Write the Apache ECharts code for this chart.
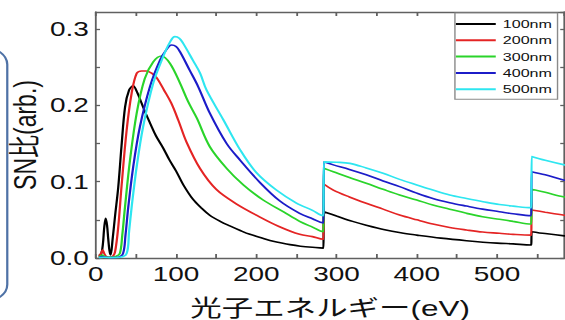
<!DOCTYPE html>
<html>
<head>
<meta charset="utf-8">
<script src="https://cdn.jsdelivr.net/npm/echarts@6/dist/echarts.min.js"></script>
<style>
html,body{margin:0;padding:0;background:#fff;overflow:hidden;width:565px;height:320px;}
#c{width:404px;height:320px;transform:scaleX(1.3985);transform-origin:0 0;}
</style>
</head>
<body>
<div id="c"></div>
<script>
// ---- data (photon energy in eV, SN ratio in arb.) ----
const legendNames = ['100nm', '200nm', '300nm', '400nm', '500nm'];
const xTicks = [0, 100, 200, 300, 400, 500];
const yTicks = [0.0, 0.1, 0.2, 0.3];

const eV100 = [4, 7, 9, 10.5, 12.3, 14, 15.5, 17, 18.5, 21, 24, 28, 32, 36.5, 41.5, 46.5, 52, 57, 62, 67.5, 75, 84, 92, 100, 109, 121, 131, 142, 155, 167, 180, 192, 205, 217, 230, 242, 255, 270, 283.8, 283.9, 284, 284.1, 300, 320, 337, 360, 380, 400, 430, 462, 500, 520, 542.8, 542.9, 543, 543.1, 560, 584, 600];
const sn100 = [0.003, 0.006, 0.02, 0.04, 0.052, 0.043, 0.025, 0.01, 0.004, 0.025, 0.055, 0.093, 0.146, 0.198, 0.22, 0.2255, 0.216, 0.203, 0.19, 0.177, 0.16, 0.144, 0.128, 0.114, 0.096, 0.077, 0.066, 0.056, 0.048, 0.042, 0.036, 0.031, 0.027, 0.023, 0.02, 0.0175, 0.0155, 0.014, 0.013, 0.013, 0.0607, 0.0607, 0.055, 0.048, 0.043, 0.037, 0.033, 0.030, 0.026, 0.0227, 0.0195, 0.0185, 0.017, 0.017, 0.0345, 0.0345, 0.032, 0.029, 0.0275];

const eV200 = [4, 6.5, 8.6, 10.5, 13, 17, 21, 24, 28, 32, 38.5, 44.7, 51, 57, 63, 70, 76, 85, 94, 103, 113, 130, 150, 175, 204, 229, 254, 270, 283.8, 283.9, 284, 284.1, 296, 316, 337, 358, 378.6, 400, 420, 441, 462, 482, 503, 520, 542.8, 542.9, 543, 543.1, 560, 584, 600];
const sn200 = [0.002, 0.006, 0.0105, 0.006, 0.002, 0.001, 0.002, 0.008, 0.041, 0.093, 0.168, 0.216, 0.242, 0.245, 0.245, 0.242, 0.236, 0.22, 0.203, 0.18, 0.152, 0.117, 0.09, 0.071, 0.054, 0.041, 0.031, 0.028, 0.0245, 0.0245, 0.097, 0.097, 0.089, 0.080, 0.0717, 0.064, 0.0563, 0.050, 0.0445, 0.040, 0.0367, 0.034, 0.0324, 0.031, 0.030, 0.030, 0.063, 0.063, 0.060, 0.056, 0.054];

const eV300 = [4, 8, 11, 15, 20, 25, 30, 33, 36.4, 42.6, 51, 61, 71.6, 82, 92.4, 105, 115, 126, 142, 163, 184, 208.5, 233.5, 254, 270, 283.8, 283.9, 284, 284.1, 296, 316, 337, 358, 378.6, 400, 420, 441, 462, 482, 503, 520, 542.8, 542.9, 543, 543.1, 560, 584, 600];
const sn300 = [0.001, 0.004, 0.002, 0.001, 0.001, 0.002, 0.006, 0.03, 0.067, 0.128, 0.19, 0.235, 0.257, 0.2647, 0.255, 0.229, 0.205, 0.183, 0.146, 0.1175, 0.0957, 0.076, 0.0607, 0.048, 0.0405, 0.0345, 0.0345, 0.1175, 0.1175, 0.113, 0.1055, 0.098, 0.090, 0.0825, 0.076, 0.0695, 0.064, 0.0585, 0.054, 0.0507, 0.048, 0.0445, 0.0445, 0.090, 0.090, 0.086, 0.080, 0.078];

const eV400 = [4, 8, 12, 20, 28, 34, 37, 40.5, 46.7, 55, 67.5, 80, 88, 94.5, 100, 105, 117, 127.6, 142, 163, 180, 204.5, 229, 254, 270, 283.8, 283.9, 284, 284.1, 296, 316, 337, 358, 378.6, 400, 420, 441, 462, 482, 503, 520, 542.8, 542.9, 543, 543.1, 560, 584, 600];
const sn400 = [0.0005, 0.002, 0.001, 0.0005, 0.001, 0.006, 0.03, 0.067, 0.12, 0.172, 0.2245, 0.259, 0.273, 0.279, 0.277, 0.270, 0.246, 0.2245, 0.19, 0.150, 0.128, 0.099, 0.075, 0.0585, 0.0515, 0.046, 0.046, 0.126, 0.126, 0.122, 0.116, 0.109, 0.101, 0.0935, 0.085, 0.078, 0.0725, 0.068, 0.064, 0.0607, 0.058, 0.0555, 0.0555, 0.113, 0.113, 0.109, 0.102, 0.099];

const eV500 = [4, 10, 20, 30, 38.5, 41.5, 44.7, 51, 59, 71.6, 84, 92, 98.6, 104, 109, 121, 130, 138, 159, 180, 200, 225, 250, 270, 283.8, 283.9, 284, 284.1, 300, 316.6, 337, 358, 378.6, 400, 420, 441, 462, 482.6, 503, 520, 542.8, 542.9, 543, 543.1, 560, 584, 600];
const sn500 = [0.0005, 0.001, 0.0005, 0.001, 0.006, 0.035, 0.067, 0.12, 0.172, 0.229, 0.264, 0.282, 0.290, 0.288, 0.281, 0.259, 0.242, 0.22, 0.181, 0.1415, 0.112, 0.089, 0.072, 0.0625, 0.0555, 0.0555, 0.126, 0.126, 0.1255, 0.124, 0.118, 0.111, 0.103, 0.0957, 0.089, 0.0825, 0.078, 0.0738, 0.070, 0.068, 0.066, 0.066, 0.133, 0.133, 0.128, 0.122, 0.119];

const seriesColors = ['#000000', '#e42424', '#2ad42a', '#1c1cc8', '#2ee6f0'];
const xData = [eV100, eV200, eV300, eV400, eV500];
const yData = [sn100, sn200, sn300, sn400, sn500];

// ---- chart ----
const FONT = "'Liberation Sans', Arial, 'Noto Sans CJK JP', sans-serif";
const chart = echarts.init(document.getElementById('c'), null, { renderer: 'svg' });

const axisLineStyle = { color: '#606060', width: 1.3 };
const xFmt = v => (xTicks.indexOf(Math.round(v)) >= 0 && Math.abs(v - Math.round(v)) < 1e-6) ? String(Math.round(v)) : '';
const yFmt = v => {
  for (const t of yTicks) if (Math.abs(v - t) < 1e-6) return t.toFixed(1);
  return '';
};

const series = legendNames.map((name, i) => ({
  name: name,
  type: 'line',
  xAxisIndex: 0,
  yAxisIndex: 0,
  data: xData[i].map((x, k) => [x, yData[i][k]]),
  showSymbol: false,
  symbol: 'none',
  smooth: 0.35,
  lineStyle: { color: seriesColors[i], width: 1.6 },
  itemStyle: { color: seriesColors[i] },
  clip: true,
  z: 2 + i
}));

chart.setOption({
  animation: false,
  backgroundColor: '#ffffff',
  textStyle: { fontFamily: FONT },
  grid: { left: 68.5, right: 0.4, top: 12, bottom: 62, containLabel: false, outerBoundsMode: 'none' },
  legend: {
    data: legendNames,
    orient: 'vertical',
    left: 325.3,
    top: 13,
    padding: [5, 4, 4, 0.7],
    itemGap: 4.3,
    itemWidth: 28.5,
    itemHeight: 2,
    icon: 'rect',
    borderColor: '#8a8a8a',
    borderWidth: 1,
    backgroundColor: '#ffffff',
    textStyle: { fontFamily: FONT, fontSize: 11.5, color: '#111', lineHeight: 12, padding: [0, 0, 0, 0] },
    itemStyle: { borderWidth: 0 }
  },
  xAxis: [{
    type: 'value',
    min: 0, max: 584, interval: 50,
    position: 'bottom',
    name: '光子エネルギー(eV)',
    nameLocation: 'middle',
    nameGap: 39,
    nameMoveOverlap: false,
    nameTextStyle: { fontFamily: FONT, fontSize: 22.5, color: '#111' },
    axisLine: { show: true, onZero: false, lineStyle: axisLineStyle },
    axisTick: { show: true, inside: true, length: 4, lineStyle: axisLineStyle },
    axisLabel: { show: true, formatter: xFmt, fontSize: 20, color: '#111', margin: 6, fontFamily: FONT, showMaxLabel: false },
    splitLine: { show: false }
  }, {
    type: 'value',
    min: 0, max: 584, interval: 50,
    position: 'top',
    axisLine: { show: true, onZero: false, lineStyle: axisLineStyle },
    axisTick: { show: true, inside: true, length: 4, lineStyle: axisLineStyle },
    axisLabel: { show: false },
    splitLine: { show: false }
  }],
  yAxis: [{
    type: 'value',
    min: 0, max: 0.3223, interval: 0.05,
    position: 'left',
    name: 'SN比(arb.)',
    nameLocation: 'middle',
    nameGap: 39,
    nameMoveOverlap: false,
    nameTextStyle: { fontFamily: FONT, fontSize: 23, color: '#111' },
    axisLine: { show: true, onZero: false, lineStyle: axisLineStyle },
    axisTick: { show: true, inside: true, length: 3, lineStyle: axisLineStyle },
    axisLabel: { show: true, formatter: yFmt, fontSize: 20, color: '#111', margin: 5, fontFamily: FONT, showMaxLabel: false },
    splitLine: { show: false }
  }, {
    type: 'value',
    min: 0, max: 0.3223, interval: 0.05,
    position: 'right',
    axisLine: { show: true, onZero: false, lineStyle: axisLineStyle },
    axisTick: { show: true, inside: true, length: 3, lineStyle: axisLineStyle },
    axisLabel: { show: false },
    splitLine: { show: false }
  }],
  graphic: [{
    type: 'rect',
    shape: { x: -30, y: 47, width: 35.2, height: 255, r: 18 },
    style: { fill: 'none', stroke: '#4f72a6', lineWidth: 1.6 },
    silent: true
  }],
  series: series
});
</script>
</body>
</html>
